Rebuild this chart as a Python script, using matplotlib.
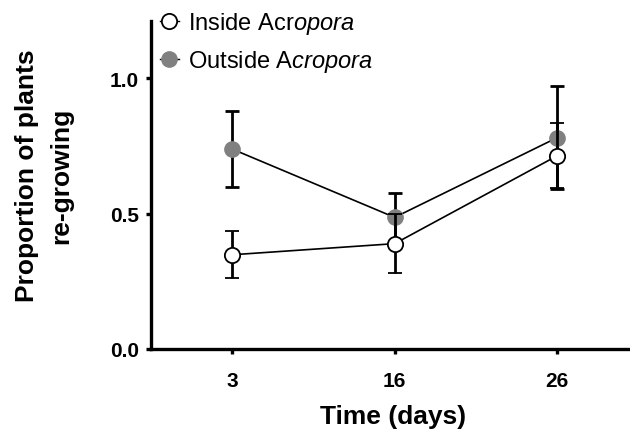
import matplotlib
matplotlib.use("Agg")
import matplotlib.pyplot as plt
from matplotlib.lines import Line2D

plt.rcParams['font.family'] = ['Liberation Sans', 'DejaVu Sans']
plt.rcParams['mathtext.fontset'] = 'custom'
plt.rcParams['mathtext.rm'] = 'Liberation Sans'
plt.rcParams['mathtext.it'] = 'Liberation Sans:italic'

# Data
days = ['3', '16', '26']
inside = [0.348, 0.389, 0.713]
inside_err = [0.086, 0.11, 0.12]
outside = [0.738, 0.486, 0.780]
outside_err = [0.14, 0.091, 0.19]
labels = ['Inside Acr$\\mathit{opora}$', 'Outside A$\\mathit{cropora}$']
yticks = [0.0, 0.5, 1.0]

fig = plt.figure(figsize=(6.3, 4.39), dpi=100)
ax = fig.add_axes([150.7/630, 1-350/439, 1-150.7/630, (350-22.3)/439])

x = list(range(len(days)))
ax.errorbar(x, outside, yerr=outside_err, fmt='o-', color='black', lw=1.2,
            ecolor='black', elinewidth=2.0, capsize=5, capthick=2.0,
            markersize=11, markerfacecolor='#808080', markeredgecolor='#808080',
            zorder=2)
ax.errorbar(x, inside, yerr=inside_err, fmt='o-', color='black', lw=1.2,
            ecolor='black', elinewidth=2.0, capsize=5, capthick=2.0,
            markersize=11, markerfacecolor='white', markeredgecolor='black',
            markeredgewidth=1.3, zorder=3)

ax.set_xlim(-0.503, 2.45)
ax.set_ylim(0, 1.21)
ax.set_xticks(x)
ax.set_xticklabels(days)
ax.set_yticks(yticks)
ax.set_yticklabels([f'{v:.1f}' for v in yticks])

for s in ['top', 'right']:
    ax.spines[s].set_visible(False)
for s in ['left', 'bottom']:
    ax.spines[s].set_linewidth(2.4)
ax.tick_params(axis='both', direction='out', length=3.5, width=2.4, labelsize=15)
ax.tick_params(axis='x', pad=12)
ax.tick_params(axis='y', pad=5)
for lab in ax.get_xticklabels() + ax.get_yticklabels():
    lab.set_fontweight('bold')

ax.set_xlabel('Time (days)', fontsize=19, fontweight='bold')
ax.xaxis.set_label_coords((393-150.7)/479.3, -(405-350)/327.7)
ax.set_ylabel('Proportion of plants\nre-growing', fontsize=19, fontweight='bold',
              linespacing=1.5)
ax.yaxis.set_label_coords((73-150.7)/479.3, (350-176)/327.7)

h_in = Line2D([0], [0], color='black', lw=1.0, marker='o', markersize=11,
              markerfacecolor='white', markeredgecolor='black', markeredgewidth=1.3)
h_out = Line2D([0], [0], color='black', lw=1.0, marker='o', markersize=11,
               markerfacecolor='#808080', markeredgecolor='#808080')
leg = ax.legend([h_in, h_out], labels,
                loc='upper left', bbox_to_anchor=(160/630, 1-11/439),
                bbox_transform=fig.transFigure, frameon=False, fontsize=17,
                handlelength=0.8, handletextpad=0.4, borderpad=0,
                borderaxespad=0, labelspacing=0.5)

fig.savefig('out.png', dpi=100)
